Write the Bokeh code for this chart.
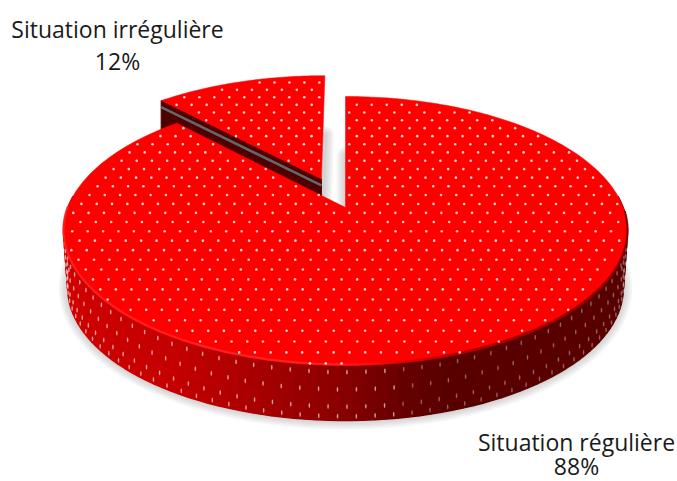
import math
import numpy as np
from bokeh.plotting import figure
from bokeh.models import Range1d
from bokeh.core.properties import value
from bokeh.embed import file_html
from bokeh.resources import INLINE

# Shares of the two groups
categories = ["Situation régulière", "Situation irrégulière"]
shares = [88, 12]
share_labels = ["88%", "12%"]

# Disc projection: apex on the page and a perspective tilt
APEX = (345.0, 207.0)
A, B, K = 277.7, 130.4, 0.1747
DEPTH = 57.4
FLOOR_SCALE = 0.985
EXPLODE = 0.245


def project(u, v, drop=0.0, scale=1.0):
    w = 1 + K * v
    return APEX[0] + scale * A * u / w, APEX[1] + drop - scale * B * v / w


def rim(start_deg, end_deg, n, shift=(0.0, 0.0), drop=0.0, scale=1.0):
    """Rim points, angles measured clockwise from the top of the disc."""
    pts = []
    for d in np.linspace(start_deg, end_deg, n):
        t = math.radians(d)
        pts.append(project(math.sin(t) + shift[0], math.cos(t) + shift[1], drop, scale))
    return pts


def inside(px, py, poly):
    hit = False
    for i in range(len(poly)):
        x1, y1 = poly[i]
        x2, y2 = poly[(i + 1) % len(poly)]
        if (y1 > py) != (y2 > py) and px < (x2 - x1) * (py - y1) / (y2 - y1) + x1:
            hit = not hit
    return hit


def edge_clear(px, py, poly, margin):
    return all((px - x) ** 2 + (py - y) ** 2 > margin ** 2 for x, y in poly)


def lerp_colour(x, stops):
    xs = [s[0] for s in stops]
    r = np.interp(x, xs, [s[1] for s in stops])
    g = np.interp(x, xs, [s[2] for s in stops])
    b = np.interp(x, xs, [s[3] for s in stops])
    return "#%02x%02x%02x" % (int(r), int(g), int(b))


main_sweep = 360.0 * shares[0] / sum(shares)
mid = math.radians(main_sweep + (360.0 - main_sweep) / 2)
offset = (EXPLODE * math.sin(mid), EXPLODE * math.cos(mid))

main_top = [project(0, 0)] + rim(0, main_sweep, 240)
main_floor = [project(0, 0, DEPTH, FLOOR_SCALE)] + rim(0, main_sweep, 240, drop=DEPTH, scale=FLOOR_SCALE)
slice_top = [project(*offset)] + rim(main_sweep, 360, 50, shift=offset)
slice_floor = [project(*offset, DEPTH, FLOOR_SCALE)] + rim(main_sweep, 360, 50, shift=offset, drop=DEPTH, scale=FLOOR_SCALE)

p = figure(width=677, height=481, x_range=Range1d(0, 677), y_range=Range1d(481, 0),
           output_backend="svg", toolbar_location=None, min_border=0,
           background_fill_color="white", border_fill_color="white", outline_line_color=None)
p.axis.visible = False
p.grid.visible = False


def xy(poly):
    return [q[0] for q in poly], [q[1] for q in poly]


# Soft drop shadow under both pieces
for width in (3, 6, 9, 12, 15, 18):
    for outline in (main_floor, slice_floor):
        xs, ys = xy(outline)
        p.patch(xs, ys, fill_alpha=0.0, line_color="#707070", line_alpha=0.055,
                line_width=width, line_join="round")

# Detached slice: cut face, stripe of the pattern, then the top face
lead = project(*offset)
corner = rim(main_sweep, main_sweep, 1, shift=offset)[0]
face_x = [corner[0], lead[0], lead[0], corner[0]]
face_y = [corner[1], lead[1], lead[1] + DEPTH, corner[1] + DEPTH]
p.patch(face_x, face_y, fill_color="#4e0000", line_color="#4e0000", line_width=1)
p.line([corner[0], lead[0]], [corner[1] + 6.5, lead[1] + 6.5], line_color="#666666", line_width=2.6)
xs, ys = xy(slice_top)
p.patch(xs, ys, fill_color="#ff0000", line_color="#ff0000", line_width=0.5)

# Wall of the large piece, shaded from left to right
wall_stops = [(60, 208, 0, 0), (180, 196, 0, 0), (250, 170, 0, 0), (340, 138, 0, 0),
              (400, 104, 0, 0), (450, 88, 0, 0), (640, 88, 0, 0)]
sweep = np.linspace(85, 275, 96)
wall_xs, wall_ys, wall_cols = [], [], []
for d0, d1 in zip(sweep[:-1], sweep[1:]):
    t0, t1 = math.radians(d0), math.radians(d1)
    a0 = project(math.sin(t0), math.cos(t0))
    a1 = project(math.sin(t1), math.cos(t1))
    b1 = project(math.sin(t1), math.cos(t1), DEPTH, FLOOR_SCALE)
    b0 = project(math.sin(t0), math.cos(t0), DEPTH, FLOOR_SCALE)
    wall_xs.append([a0[0], a1[0], b1[0], b0[0]])
    wall_ys.append([a0[1], a1[1], b1[1], b0[1]])
    wall_cols.append(lerp_colour((a0[0] + a1[0]) / 2, wall_stops))
p.patches(wall_xs, wall_ys, fill_color=wall_cols, line_color=wall_cols, line_width=1.4)

# Pattern on the wall: short upright flecks in staggered rows
fleck_x, fleck_y, fleck_a = [], [], []
for row, down in enumerate((7, 25, 43, 53)):
    step = 3.25
    start = 92 + (row % 2) * step / 2
    for d in np.arange(start, 268, step):
        t = math.radians(d)
        x, y = project(math.sin(t), math.cos(t), down, 1 - (1 - FLOOR_SCALE) * down / DEPTH)
        fleck_x.append(x)
        fleck_y.append(y)
        fleck_a.append(0.6 if x < 400 else 0.36)
p.ellipse(fleck_x, fleck_y, width=1.6, height=5, fill_color="#ffffff", fill_alpha=fleck_a, line_color=None)

# Top face of the large piece
xs, ys = xy(main_top)
p.patch(xs, ys, fill_color="#ff0000", line_color="#ff0000", line_width=0.5)

# Bevel along the front rim: bright on the left, falling into shade on the right
bevel = rim(92, 270, 200)
seg_x, seg_y, seg_c = [], [], []
bevel_stops = [(60, 255, 40, 40), (340, 255, 40, 40), (400, 225, 0, 0), (470, 150, 0, 0), (640, 110, 0, 0)]
for q0, q1 in zip(bevel[:-1], bevel[1:]):
    seg_x.append([q0[0], q1[0]])
    seg_y.append([q0[1] - 1.0, q1[1] - 1.0])
    seg_c.append(lerp_colour((q0[0] + q1[0]) / 2, bevel_stops))
p.multi_line(seg_x, seg_y, line_color=seg_c, line_width=2.2, line_alpha=0.8)

# Pattern on the top faces: staggered dots with slightly widening rows
dot_x, dot_y = [], []
y, row = 82.0, 0
while y < 368:
    spacing = 15.0 + (y - 100) * 0.003
    for n in range(-20, 21):
        x = APEX[0] + (n + 0.5 * (row % 2) + 0.25) * spacing
        for outline in (main_top, slice_top):
            if inside(x, y, outline) and edge_clear(x, y, outline, 3.0):
                dot_x.append(x)
                dot_y.append(y)
                break
    y += 7.6 + (y - 100) * 0.0135
    row += 1
p.scatter(dot_x, dot_y, size=2.6, marker="circle", fill_color="#ffffff", fill_alpha=0.8, line_color=None)

# Labels
label_x = [576, 117]
name_y = [441, 28]
pct_y = [465, 60]
font = value("Open Sans")
p.text(label_x, name_y, text=categories, text_font=font, text_font_size="23px", text_color="#1a1a1a",
       text_align="center", text_baseline="middle")
p.text(label_x, pct_y, text=share_labels, text_font=font, text_font_size="23px", text_color="#1a1a1a",
       text_align="center", text_baseline="middle")

open("out.html", "w").write(file_html(p, INLINE))
